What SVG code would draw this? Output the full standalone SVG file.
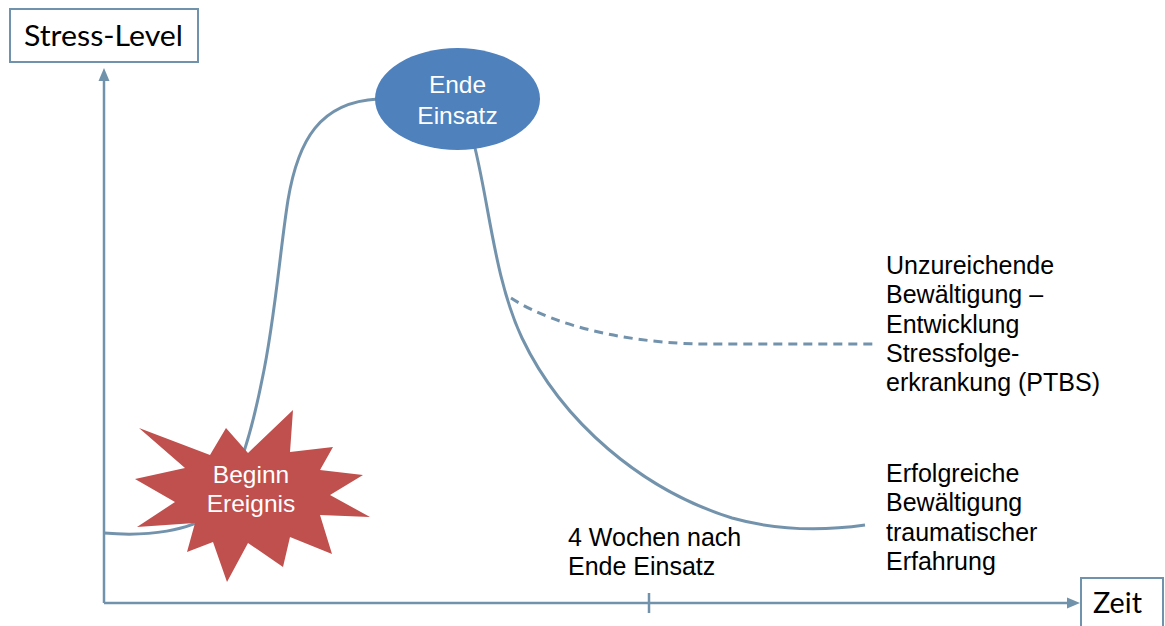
<svg xmlns="http://www.w3.org/2000/svg" width="1165" height="626" viewBox="0 0 1165 626">
<style>
.ax{fill:none;stroke:#7092AB;stroke-width:2.5}
.crv{fill:none;stroke:#7393AC;stroke-width:3}
.box{fill:#fff;stroke:#7092AB;stroke-width:2}
.cal{font-family:Lato,"Open Sans",sans-serif;font-size:28px;fill:#000}
.lbl{font-family:"Liberation Sans",Arial,sans-serif;font-size:25px;fill:#000}
.wt{font-family:"Liberation Sans",Arial,sans-serif;font-size:24.5px;fill:#fff;text-anchor:middle}
</style>
<rect width="1165" height="626" fill="#fff"/>
<g id="connectors">
<path class="crv" d="M104,533 C150,537 190,530 210,515 C235,490 250,440 262,380 C275,320 280,250 288,200 C298,140 320,102 378,99"/>
<path class="crv" d="M475,148 C490,210 495,280 522,338 C562,422 642,490 732,518 C782,532 830,530 865,525"/>
<path class="crv" stroke-dasharray="9,6" d="M511,298 C560,330 640,343 700,344 L876,344"/>
<path class="ax" d="M104,603 L104,80"/>
<path d="M104,68 L98.5,81 L109.5,81 Z" fill="#7092AB"/>
<path class="ax" d="M104,603 L1068,603"/>
<path d="M1080,603 L1067,597.5 L1067,608.5 Z" fill="#7092AB"/>
<path class="ax" d="M649,593 L649,613"/>
</g>
<g id="stress-level">
<rect class="box" x="10" y="9" width="188" height="53"/>
<text class="cal" x="24" y="46" textLength="159" lengthAdjust="spacingAndGlyphs">Stress-Level</text>
</g>
<g id="zeit">
<rect class="box" x="1081" y="578" width="82" height="60"/>
<text class="cal" x="1093" y="613" textLength="49" lengthAdjust="spacingAndGlyphs">Zeit</text>
</g>
<g id="beginn">
<polygon fill="#C0504D" points="139,428 210,455 226,428 248,453 293,410 290,452 333,447 320,470 363,475 330,495 370,517 320,515 332,554 290,537 283,567 248,543 227,582 213,542 187,552 195,523 137,527 175,502 135,479 185,468"/>
<text class="wt" x="251" y="483">Beginn</text>
<text class="wt" x="251" y="512">Ereignis</text>
</g>
<g id="ende">
<ellipse cx="457.5" cy="99" rx="82.5" ry="51" fill="#4F81BD"/>
<text class="wt" x="457.5" y="93">Ende</text>
<text class="wt" x="457.5" y="124">Einsatz</text>
</g>
<g id="label-ptbs">
<text class="lbl" x="886" y="274">Unzureichende</text>
<text class="lbl" x="886" y="303.3">Bewältigung –</text>
<text class="lbl" x="886" y="332.6">Entwicklung</text>
<text class="lbl" x="886" y="361.9">Stressfolge-</text>
<text class="lbl" x="886" y="391.2">erkrankung (PTBS)</text>
</g>
<g id="label-erfolg">
<text class="lbl" x="886" y="482">Erfolgreiche</text>
<text class="lbl" x="886" y="511.3">Bewältigung</text>
<text class="lbl" x="886" y="540.6">traumatischer</text>
<text class="lbl" x="886" y="569.9">Erfahrung</text>
</g>
<g id="label-4wochen">
<text class="lbl" x="568" y="546">4 Wochen nach</text>
<text class="lbl" x="568" y="575">Ende Einsatz</text>
</g>
</svg>
